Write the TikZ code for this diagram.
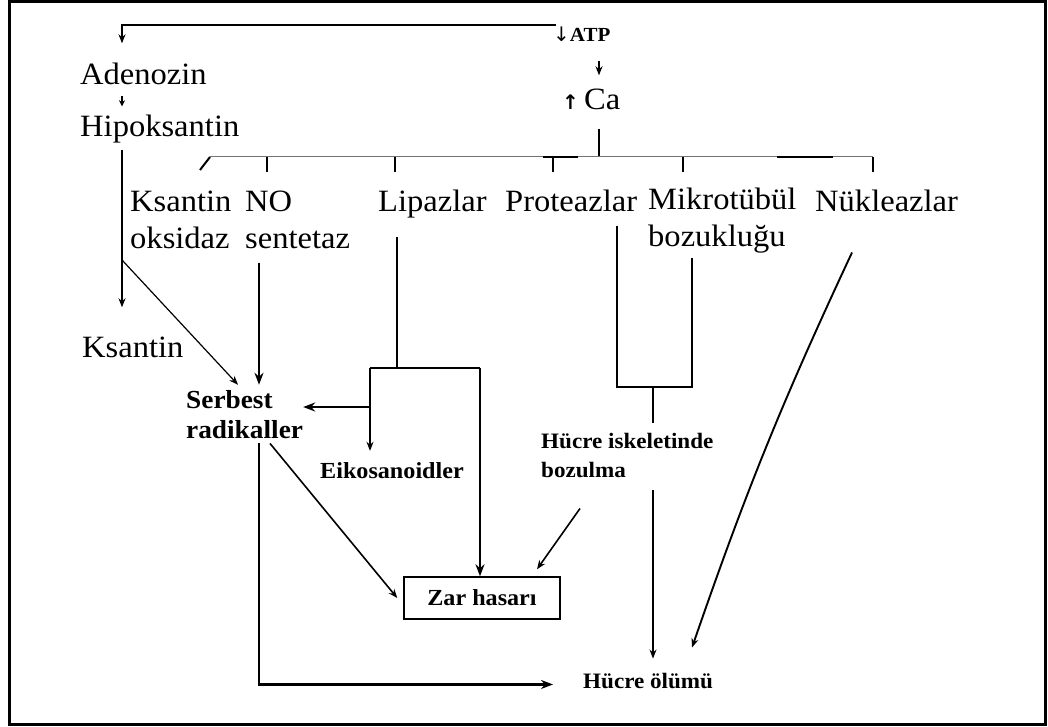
\documentclass[tikz,border=0pt]{standalone}
\usepackage{fontspec}
\setmainfont{Liberation Serif}[FakeStretch=1.05]
\newfontfamily\arrfont{DejaVu Sans}
\usetikzlibrary{arrows.meta}

\tikzset{
  big/.style={inner sep=0pt, anchor=base west, align=left, font=\fontsize{31}{37}\selectfont},
  small/.style={inner sep=0pt, anchor=base west, align=left, font=\fontsize{23}{29}\selectfont\bfseries},
  lnthin/.style={line width=1.2pt},
  lnmid/.style={line width=1.6pt},
  lnheavy/.style={line width=2.6pt},
  lnbus/.style={line width=1pt, black!55},
  lntick/.style={line width=2pt},
  hd/.style={-{Stealth[length=9pt,width=7pt]}},
  hdbig/.style={-{Stealth[length=12pt,width=9pt]}}
}

\begin{document}
\begin{tikzpicture}[x=1pt, y=-1pt]
  \useasboundingbox (0,0) rectangle (1048,727);
  \draw[line width=3pt] (9.5,1.5) rectangle (1045.5,724.5);

  % top of the scheme
  \node[small, font=\fontsize{20}{20}\selectfont\bfseries] (atp) at (553,42) {{\arrfont\mdseries ↓}ATP};
  \node[big] (ca) at (562,110) {{\arrfont\bfseries\fontsize{20}{20}\selectfont ↑}\,Ca};
  \node[big] (aden) at (80,85) {Adenozin};
  \node[big] (hipo) at (80,137) {Hipoksantin};

  % enzymes (two-line labels sit on their last line)
  \node[big] (ksox) at (130,248) {Ksantin\\oksidaz};
  \node[big] (nos) at (245,248) {NO\\sentetaz};
  \node[big] (lip) at (378,212) {Lipazlar};
  \node[big] (prot) at (505,212) {Proteazlar};
  \node[big] (mik) at (648,247) {Mikrotübül\\bozukluğu};
  \node[big] (nuk) at (815,212) {Nükleazlar};
  \node[big] (ksan) at (82,357) {Ksantin};

  % products
  \node[small, font=\fontsize{26}{30}\selectfont\bfseries] (serb) at (186,438) {Serbest\\radikaller};
  \node[small] (eiko) at (320,478) {Eikosanoidler};
  \node[small, font=\fontsize{22}{29}\selectfont\bfseries] (hisk) at (541,477) {Hücre iskeletinde\\bozulma};
  \node[small, draw, line width=1.5pt, anchor=center, minimum width=156pt,
        minimum height=42pt] (zar) at (482,598) {Zar hasarı};
  \node[small, font=\fontsize{22}{29}\selectfont\bfseries] (hol) at (583,688) {Hücre ölümü};

  % columns and bends
  \coordinate (trunk) at (122,0);
  \coordinate (topbar) at (556,25);
  \coordinate (colCa) at (599,0);
  \coordinate (colNO) at (259,0);
  \coordinate (kobr) at (122,260);
  \coordinate (busL) at (210,157);
  \coordinate (busR) at (873,157);
  \coordinate (lipfork) at (397,368);
  \coordinate (eikL) at (370,368);
  \coordinate (zarR) at (480,368);
  \coordinate (lipleft) at (370,407);
  \coordinate (brkL) at (617,387);
  \coordinate (brkM) at (653,387);
  \coordinate (brkR) at (692,387);

  % ATP, Ca and the bus
  \draw[lnthin, hd, shorten >=20pt] (topbar) -| (trunk |- aden.north);
  \draw[lnthin, hd, shorten <=19pt, shorten >=14pt] (colCa |- atp.south) -- (colCa |- ca.north);
  \draw[lnthin, shorten <=18pt] (colCa |- ca.south) -- (colCa |- busL);
  \draw[lnbus] (busL) -- (busR);
  \draw[lnheavy] (543,157) -- (578,157);
  \draw[lnheavy] (777,157) -- (833,157);
  \draw[lntick] (busL) -- ++(-10,13);
  \foreach \x in {267,395,553,683,873}
    \draw[lntick] (\x,157) -- ++(0,15);

  % left trunk
  \draw[lnthin, -{Stealth[length=6pt,width=6pt]}, shorten <=10pt, shorten >=9pt]
    (trunk |- aden.south) -- (trunk |- hipo.north);
  \draw[lnthin, hd, shorten <=6pt, shorten >=29pt] (trunk |- hipo.south) -- (trunk |- ksan.north);
  \draw[lnthin, hd] (kobr) -- ([shift={(52,-5)}]serb.north west);
  \draw[lnheavy, hdbig, shorten <=14pt, shorten >=5pt] (colNO |- nos.south) -- (colNO |- serb.north);

  % lipases
  \draw[lnheavy, shorten <=18pt] (lipfork |- lip.south) -- (lipfork);
  \draw[lnmid] (eikL) -- (zarR);
  \draw[lnmid, hd, shorten >=11pt] (eikL) -- (eikL |- eiko.north);
  \draw[lnheavy, hdbig] (zarR) -- (zarR |- zar.north);
  \draw[lnheavy, hdbig] (lipleft) -- (lipleft -| serb.east);

  % proteases and microtubules
  \draw[lnmid, shorten <=13pt, shorten >=4pt]
    (brkL |- prot.south) -- (brkL) -- (brkR) -- (brkR |- mik.south);
  \draw[lnmid, shorten >=10pt] (brkM) -- (brkM |- hisk.north);

  % damage and death
  \draw[lnmid, hd] ([shift={(84,5)}]serb.south west) -- ([shift={(-6,0)}]zar.west);
  \draw[lnmid, hd] ([shift={(39,31)}]hisk.south west) -- ([shift={(55,-7)}]zar.north);
  \draw[lnthin, hd, shorten <=13pt, shorten >=14pt] (brkM |- hisk.south) -- (brkM |- hol.north);
  \draw[lnheavy, hdbig, shorten <=5pt] (colNO |- serb.south) |- ([shift={(-30,-4)}]hol.south west);
  \draw[lnmid, line width=1.9pt, hd] ([shift={(37,40)}]nuk.south west) to[bend right=3] ([shift={(109,-25)}]hol.north west);
\end{tikzpicture}
\end{document}
